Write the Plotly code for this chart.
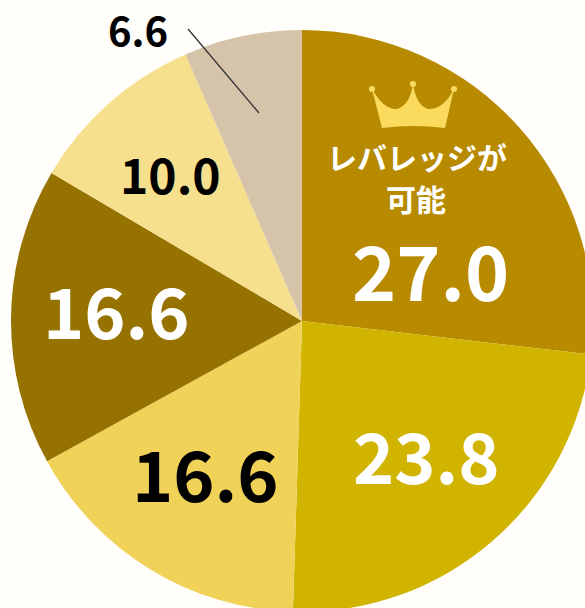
import plotly.graph_objects as go

labels = ["レバレッジが可能", "B", "C", "D", "E", "F"]
values = [27.0, 23.8, 16.6, 16.6, 10.0, 6.6]
colors = ["#B88A00", "#D0B400", "#F1D258", "#967200", "#F6E08D", "#D6C4AA"]
text_labels = ["27.0", "23.8", "16.6", "16.6", "10.0", "6.6"]

# Figure is larger than the 585x608 window because the pie runs past its right and bottom edges
W, H = 605, 625
cx, cy, r = 302, 321, 291

def X(x):
    return x / W

def Y(y):
    return 1 - y / H

fig = go.Figure(go.Pie(
    labels=labels, values=values, sort=False, direction="clockwise", rotation=0,
    marker=dict(colors=colors, line=dict(width=0)), textinfo="none",
    hoverinfo="none", showlegend=False,
    domain=dict(x=[X(cx - r), X(cx + r)], y=[Y(cy + r), Y(cy - r)]),
))

def t(x, y, s, size, color, weight=700):
    fig.add_annotation(x=X(x), y=Y(y), xref="paper", yref="paper", text=s, showarrow=False,
        font=dict(size=size, color=color, family="Noto Sans CJK JP", weight=weight),
        xanchor="center", yanchor="middle")

t(430, 268, text_labels[0], 75, "white")
t(426, 453, text_labels[1], 70, "white")
t(205, 471, text_labels[2], 70, "black")
t(116, 309, text_labels[3], 70, "white")
t(170, 173, text_labels[4], 48, "black")
t(138, 29, text_labels[5], 40, "black")
t(417, 156, "レバレッジが", 30, "white", 700)
t(416, 198, "可能", 30, "white", 700)

fig.add_shape(type="line", xref="paper", yref="paper", x0=X(188), y0=Y(29), x1=X(259), y1=Y(113),
              line=dict(color="#333333", width=1.3))

crown = [("M", 372, 89), ("Q", 384, 110, 397, 109), ("Q", 410, 105, 413, 84),
         ("Q", 416, 105, 428, 109), ("Q", 443, 110, 454, 89), ("L", 445, 128),
         ("Q", 413, 124, 382, 128)]
parts = []
for seg in crown:
    nums = seg[1:]
    coords = [f"{X(nums[i]):.5f},{Y(nums[i + 1]):.5f}" for i in range(0, len(nums), 2)]
    parts.append(seg[0] + " ".join(coords))
fig.add_shape(type="path", xref="paper", yref="paper", path=" ".join(parts) + " Z",
              fillcolor="#FBDB5E", line=dict(width=0))
for bx, by in [(372, 89), (413, 84), (454, 89)]:
    fig.add_shape(type="circle", xref="paper", yref="paper",
                  x0=X(bx - 3), x1=X(bx + 3), y0=Y(by + 3), y1=Y(by - 3),
                  fillcolor="#FBDB5E", line=dict(width=0))

fig.update_layout(width=W, height=H, margin=dict(l=0, r=0, t=0, b=0),
                  paper_bgcolor="#FFFEFB", plot_bgcolor="#FFFEFB")
fig.write_html("out.html", config=dict(displayModeBar=False), post_script=(
    "document.documentElement.style.overflow='hidden';"
    "document.body.style.overflow='hidden';document.body.style.margin='0';"))
